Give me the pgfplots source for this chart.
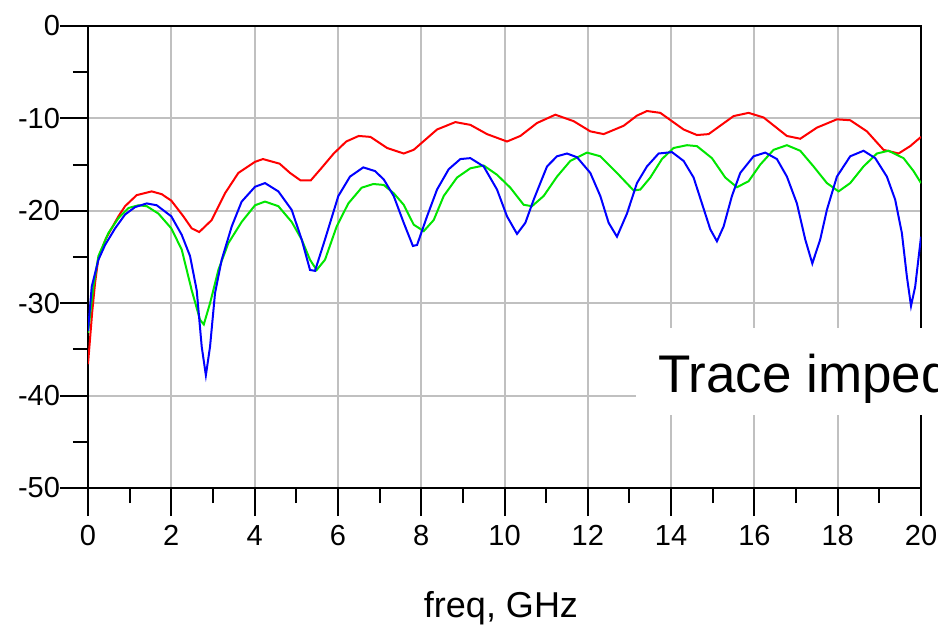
\documentclass[border=0pt]{standalone}
\usepackage{pgfplots}
\pgfplotsset{compat=1.18}
\usepackage{fontspec}
\setmainfont{Liberation Sans}

\definecolor{gridgray}{RGB}{192,192,192}
\definecolor{sred}{RGB}{255,0,0}
\definecolor{sgreen}{RGB}{0,230,0}
\definecolor{sblue}{RGB}{0,0,255}

\begin{document}
\begin{tikzpicture}[x=0.5bp,y=-0.5bp]
\useasboundingbox (0,0) rectangle (938,625);
\clip (0,0) rectangle (938,625);
\begin{axis}[
  at={(44bp,-244bp)}, anchor=south west,
  scale only axis, width=416.5bp, height=231bp,
  xmin=0, xmax=20, ymin=-50, ymax=0,
  xtick={0,2,...,20},
  xticklabels={0,2,4,6,8,10,12,14,16,18,20},
  ytick={-50,-40,-30,-20,-10,0},
  yticklabels={-50,-40,-30,-20,-10,0},
  minor x tick num=1, minor y tick num=1,
  tick pos=left, tick align=outside,
  major tick length=14bp, minor tick length=7.5bp,
  every tick/.style={black, line width=1bp},
  grid=major,
  major grid style={gridgray, line width=1bp},
  axis line style={black, line width=1bp},
  ticklabel style={font=\fontsize{14.5bp}{17bp}\selectfont},
  xticklabel style={anchor=north, yshift=-1bp},
  yticklabel style={anchor=east, xshift=3.5bp},
  clip=true,
]
% S-parameter traces
\addplot[sred, line width=1bp] coordinates {
(0,-36.6) (0.1,-31) (0.17,-27.8) (0.25,-25.1) (0.43,-23.0) (0.73,-20.6) (0.89,-19.5)
(1.17,-18.3) (1.53,-17.9) (1.77,-18.2) (2.0,-18.9) (2.29,-20.6) (2.49,-21.9) (2.67,-22.3)
(2.97,-21.0) (3.29,-18.1) (3.61,-15.9) (4.01,-14.7) (4.2,-14.4) (4.6,-14.9) (4.85,-15.9)
(5.1,-16.7) (5.35,-16.7) (5.6,-15.4) (5.9,-13.8) (6.2,-12.5) (6.5,-11.9) (6.78,-12.0)
(7.18,-13.2) (7.58,-13.8) (7.82,-13.4) (8.38,-11.2) (8.82,-10.4) (9.18,-10.7) (9.58,-11.7)
(10.06,-12.5) (10.38,-11.9) (10.78,-10.5) (11.22,-9.6) (11.66,-10.3) (12.06,-11.4)
(12.38,-11.7) (12.86,-10.8) (13.18,-9.7) (13.42,-9.2) (13.74,-9.4) (14.3,-11.2)
(14.62,-11.8) (14.9,-11.7) (15.5,-9.75) (15.86,-9.4) (16.22,-9.9) (16.78,-11.9)
(17.1,-12.2) (17.5,-11.0) (17.98,-10.1) (18.3,-10.2) (18.7,-11.4) (19.1,-13.4)
(19.46,-13.8) (19.74,-13.0) (20.0,-12.0)
};
\addplot[sgreen, line width=1bp] coordinates {
(0,-33.2) (0.13,-28.2) (0.25,-24.9) (0.49,-22.4) (0.73,-20.8) (0.97,-19.7) (1.21,-19.4)
(1.41,-19.5) (1.69,-20.3) (2.0,-21.9) (2.25,-24.2) (2.49,-28.6) (2.69,-31.8) (2.78,-32.3)
(2.93,-30.0) (3.13,-26.4) (3.37,-23.5) (3.69,-21.2) (4.01,-19.4) (4.25,-19.0) (4.57,-19.5)
(4.89,-21.2) (5.13,-23.1) (5.33,-25.3) (5.49,-26.4) (5.69,-25.3) (5.97,-21.7) (6.25,-19.2)
(6.57,-17.5) (6.85,-17.1) (7.1,-17.2) (7.34,-18.1) (7.58,-19.35) (7.82,-21.5) (8.06,-22.2)
(8.3,-21.0) (8.54,-18.4) (8.86,-16.4) (9.18,-15.4) (9.5,-15.1) (9.82,-16.1) (10.14,-17.5)
(10.46,-19.35) (10.66,-19.5) (10.94,-18.4) (11.26,-16.3) (11.58,-14.6) (11.98,-13.7)
(12.3,-14.1) (12.7,-15.9) (13.1,-17.8) (13.26,-17.7) (13.5,-16.4) (13.78,-14.4)
(14.06,-13.2) (14.38,-12.9) (14.62,-13.0) (14.98,-14.3) (15.3,-16.4) (15.58,-17.45)
(15.86,-16.8) (16.14,-15.0) (16.46,-13.4) (16.78,-12.9) (17.1,-13.5) (17.42,-15.2)
(17.74,-17.0) (18.02,-17.9) (18.3,-17.0) (18.62,-15.2) (18.94,-13.8) (19.22,-13.5)
(19.58,-14.3) (19.82,-15.7) (20.0,-17.0)
};
\addplot[sblue, line width=1bp] coordinates {
(0,-33.0) (0.09,-28.2) (0.25,-25.3) (0.41,-23.7) (0.65,-21.9) (0.89,-20.4) (1.13,-19.6)
(1.41,-19.2) (1.65,-19.4) (2.0,-20.6) (2.25,-22.6) (2.45,-24.9) (2.61,-28.6) (2.73,-34.7)
(2.83,-37.8) (2.93,-34.7) (3.05,-28.9) (3.21,-25.3) (3.45,-21.7) (3.69,-19.0) (4.01,-17.4)
(4.25,-17.0) (4.57,-17.9) (4.89,-19.9) (5.13,-23.1) (5.33,-26.4) (5.45,-26.5) (5.69,-23.1)
(6.01,-18.4) (6.29,-16.3) (6.61,-15.3) (6.89,-15.7) (7.1,-16.6) (7.34,-18.4) (7.58,-21.3)
(7.8,-23.8) (7.9,-23.7) (8.14,-20.6) (8.38,-17.7) (8.66,-15.5) (8.94,-14.4) (9.18,-14.3)
(9.5,-15.2) (9.82,-17.7) (10.06,-20.6) (10.3,-22.5) (10.5,-21.3) (10.7,-18.8) (11.02,-15.2)
(11.26,-14.1) (11.5,-13.8) (11.74,-14.2) (12.06,-15.9) (12.3,-18.4) (12.5,-21.3)
(12.7,-22.8) (12.94,-20.3) (13.18,-17.0) (13.42,-15.2) (13.7,-13.8) (14.02,-13.65)
(14.3,-14.6) (14.54,-16.4) (14.74,-19.2) (14.94,-22.0) (15.1,-23.3) (15.26,-21.7)
(15.46,-18.4) (15.66,-15.9) (15.98,-14.1) (16.26,-13.7) (16.54,-14.4) (16.78,-16.3)
(17.02,-19.2) (17.22,-23.1) (17.39,-25.7) (17.58,-23.1) (17.74,-19.9) (17.98,-16.3)
(18.3,-14.1) (18.62,-13.5) (18.9,-14.3) (19.18,-16.3) (19.38,-18.8) (19.54,-22.4)
(19.66,-27.1) (19.76,-30.3) (19.86,-28.2) (20.0,-22.8)
};
\end{axis}
% annotation box over the grid
\fill[white] (636,328) rectangle (960,415);
\node[anchor=base west, inner sep=0pt, font=\fontsize{26.5bp}{32bp}\selectfont]
  at (658,393) {Trace impedance};
\node[anchor=base, inner sep=0pt, font=\fontsize{18bp}{21bp}\selectfont]
  at (501,617) {freq, GHz};
\end{tikzpicture}
\end{document}
